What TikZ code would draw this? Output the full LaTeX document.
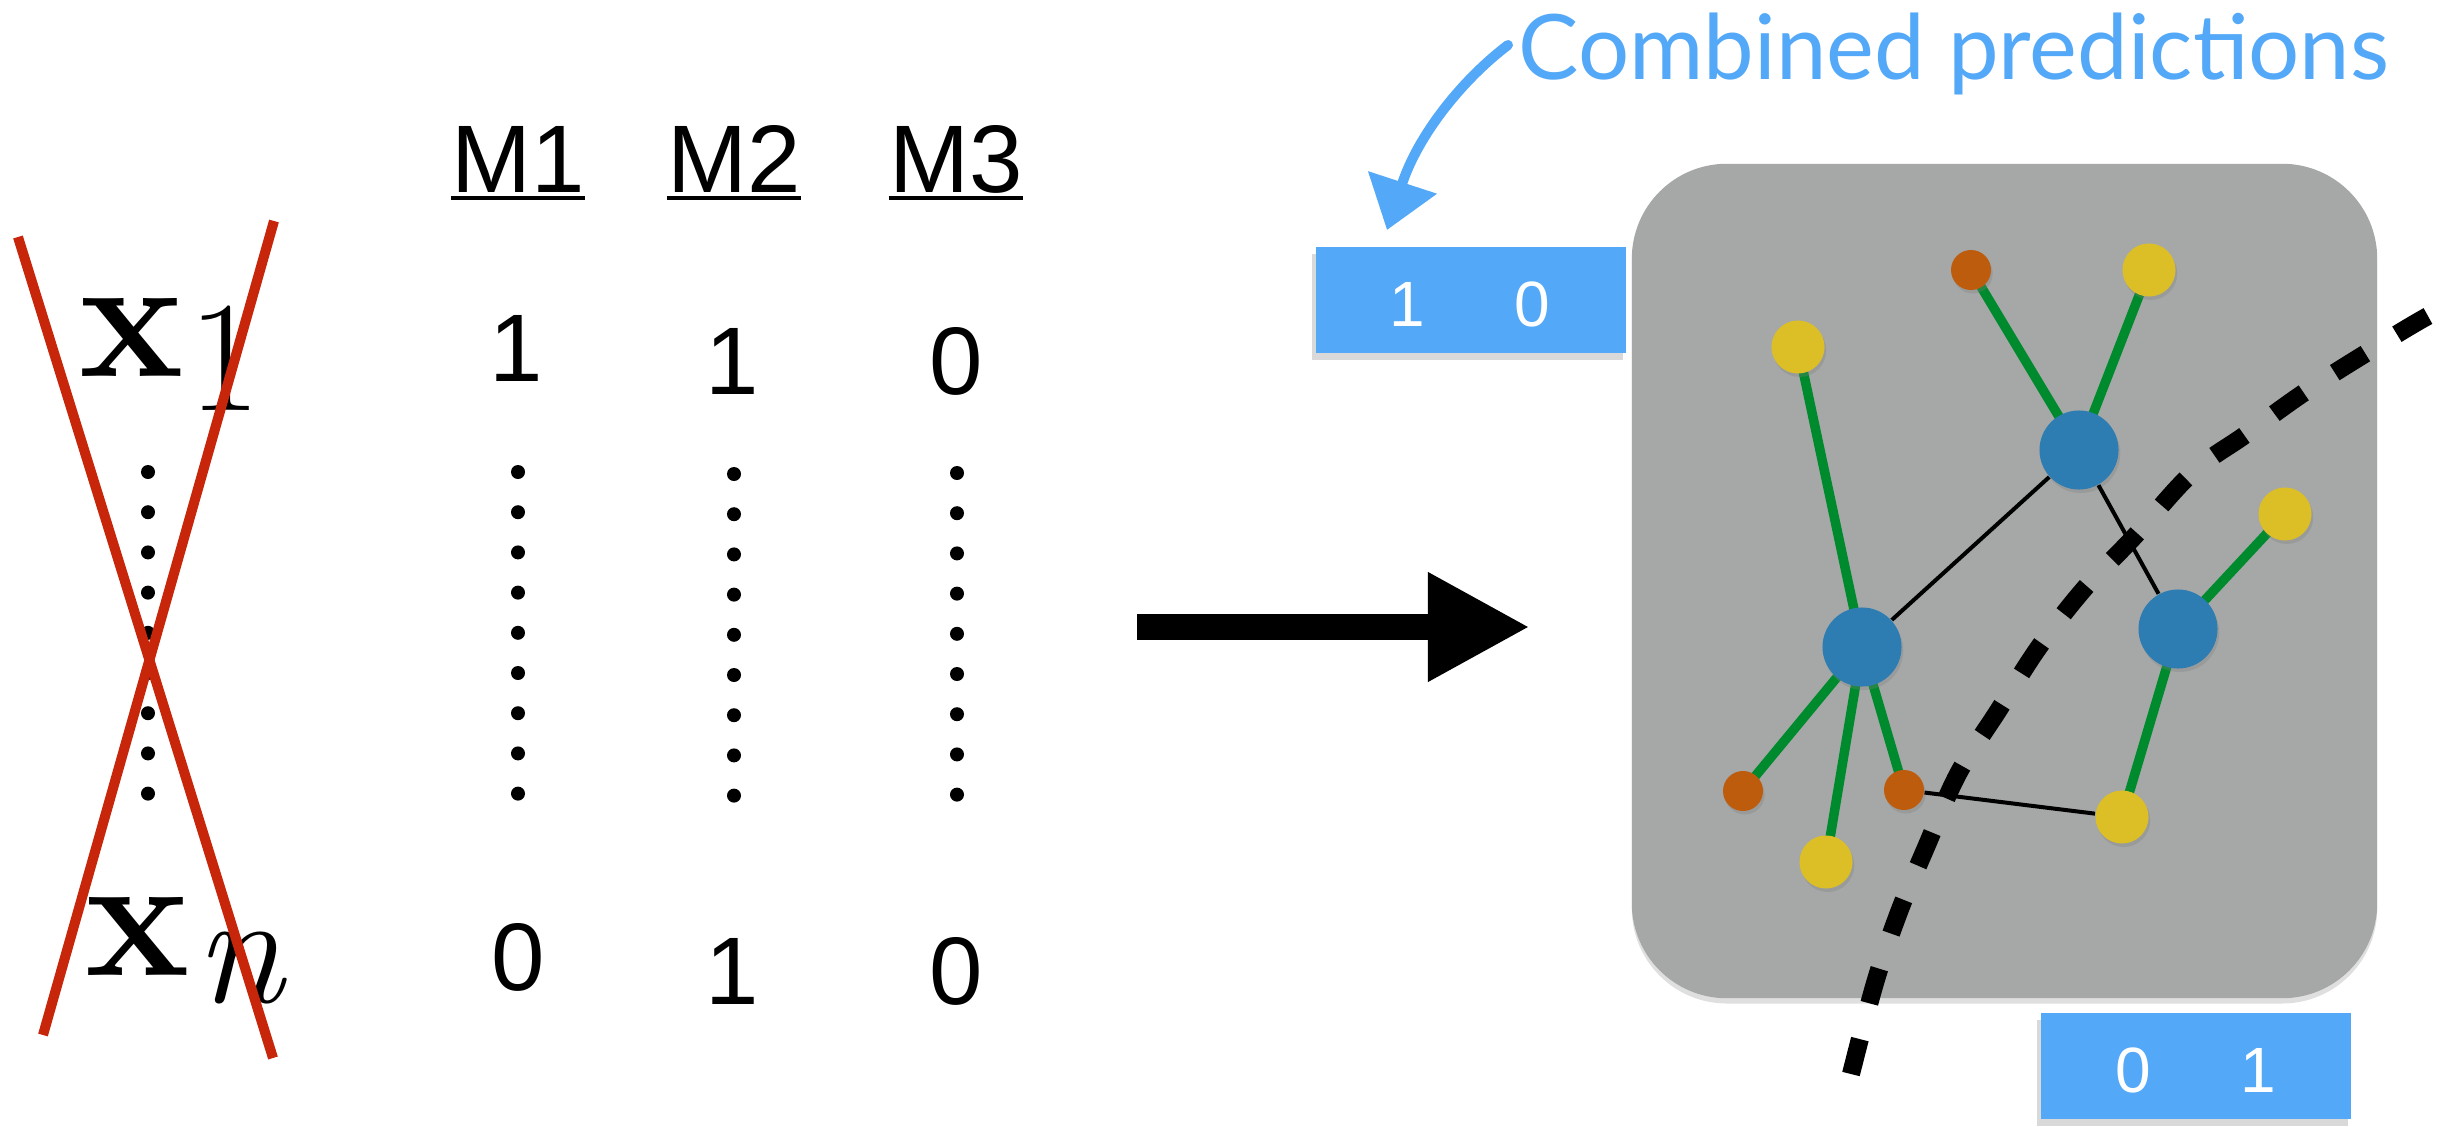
\documentclass[tikz,border=0pt]{standalone}
\usepackage{fontspec}
\newfontfamily\helv{Liberation Sans}
\newfontfamily\gillfont{Lato}
\usetikzlibrary{arrows.meta,shadows,calc}
\definecolor{predblue}{RGB}{84,168,248}
\definecolor{crossred}{RGB}{200,38,10}
\definecolor{boxgray}{RGB}{165,168,167}
\definecolor{edgegreen}{RGB}{0,138,46}
\definecolor{nodeblue}{RGB}{46,125,178}
\definecolor{nodeyellow}{RGB}{220,190,38}
\definecolor{nodeorange}{RGB}{190,92,14}
\begin{document}
\begin{tikzpicture}[x=0.01cm,y=-0.01cm,
  hdr/.style={font=\helv\fontsize{27.3}{30}\selectfont, inner sep=0pt, anchor=base},
  vdot/.style={circle, fill=black, inner sep=0pt, minimum size=0.14cm},
  ul/.style={line width=0.04cm},
  cross/.style={crossred, line width=0.10cm},
  bnode/.style={circle, fill=nodeblue, inner sep=0pt, minimum size=0.79cm, drop shadow={shadow xshift=0.5pt, shadow yshift=-1pt, opacity=0.3}},
  ynode/.style={circle, fill=nodeyellow, inner sep=0pt, minimum size=0.53cm, drop shadow={shadow xshift=0.5pt, shadow yshift=-1pt, opacity=0.3}},
  onode/.style={circle, fill=nodeorange, inner sep=0pt, minimum size=0.40cm, drop shadow={shadow xshift=0.5pt, shadow yshift=-1pt, opacity=0.3}},
  gedge/.style={edgegreen, line width=0.095cm},
  kedge/.style={black, line width=0.04cm},
  predbox/.style={fill=predblue, minimum width=3.1cm, minimum height=1.06cm, inner sep=0pt, drop shadow={shadow xshift=-1pt, shadow yshift=-2pt, opacity=0.3}},
  boxdigit/.style={white, font=\helv\fontsize{18.2}{20}\selectfont, inner sep=0pt, anchor=base},
  dashline/.style={black, line width=0.18cm, dash pattern=on 0.36cm off 0.37cm},
  bigarrow/.style={black, line width=0.26cm, -{Triangle[length=1.02cm, width=1.02cm]}},
  curlyarrow/.style={predblue, line width=0.10cm, line cap=round, -{Triangle[length=0.5cm, width=0.7cm]}}
]
\useasboundingbox (0,0) rectangle (2444,1127);

% ---------- left table ----------
\node[hdr] (m1) at (518,192) {M1};
\node[hdr] (m2) at (734,192) {M2};
\node[hdr] (m3) at (956,192) {M3};
\foreach \m in {m1,m2,m3}{
  \draw[ul] ($(\m.base west)+(0,6)$) -- ($(\m.base east)+(0,6)$);
}
\node[hdr] (v11) at (516,381) {1};
\node[hdr] (v12) at (732,394) {1};
\node[hdr] (v13) at (956,394) {0};
\node[hdr] (vn1) at (518,990) {0};
\node[hdr] (vn2) at (732,1004) {1};
\node[hdr] (vn3) at (956,1004) {0};

\foreach \i in {0,...,8}{
  \node[vdot] (dx\i) at (148,472+40.2*\i) {};
  \node[vdot] (da\i) at (518,472+40.2*\i) {};
  \node[vdot] (db\i) at (734,474+40.2*\i) {};
  \node[vdot] (dc\i) at (957,473+40.2*\i) {};
}

\node[inner sep=0pt, anchor=base west, font=\fontsize{50}{55}\selectfont\bfseries] (x1) at (79,376) {x};
\node[inner sep=0pt, anchor=base, font=\fontsize{45}{48}\selectfont] (s1) at (225,410) {1};
\node[inner sep=0pt, anchor=base west, font=\fontsize{50}{55}\selectfont\bfseries] (xn) at (85,975) {x};
\node[inner sep=0pt, anchor=base, font=\fontsize{45.5}{50}\selectfont\itshape] (sn) at (240,1002) {n};

\coordinate (r1a) at (18,237);
\coordinate (r1b) at (273,1058);
\coordinate (r2a) at (274,221);
\coordinate (r2b) at (43,1035);
\draw[cross] (r1a) -- (r1b);
\draw[cross] (r2a) -- (r2b);

% ---------- big arrow ----------
\coordinate (bigS) at (1137,627);
\coordinate (bigE) at (1530,627);
\draw[bigarrow] (bigS) -- (bigE);

% ---------- panel ----------
\node[fill=boxgray, rounded corners=0.95cm, minimum width=7.45cm, minimum height=8.34cm, inner sep=0pt,
      drop shadow={shadow xshift=0pt, shadow yshift=-1.5pt, opacity=0.25}] (panel) at (2004.5,581) {};

\coordinate (ot) at (1971,270);
\coordinate (ytr) at (2149,270);
\coordinate (yl) at (1798,347);
\coordinate (bt) at (2079,450);
\coordinate (yr) at (2285,514);
\coordinate (bl) at (1862,647);
\coordinate (br) at (2178,629);
\coordinate (olb) at (1743,791);
\coordinate (om) at (1904,790);
\coordinate (yb) at (1826,862);
\coordinate (yrb) at (2122,817);

\draw[gedge] (yl) -- (bl);
\draw[gedge] (ot) -- (bt);
\draw[gedge] (ytr) -- (bt);
\draw[gedge] (yr) -- (br);
\draw[gedge] (bl) -- (olb);
\draw[gedge] (bl) -- (yb);
\draw[gedge] (bl) -- (om);
\draw[gedge] (br) -- (yrb);

\node[onode] (Not) at (ot) {};
\node[ynode] (Nytr) at (ytr) {};
\node[ynode] (Nyl) at (yl) {};
\node[bnode] (Nbt) at (bt) {};
\node[ynode] (Nyr) at (yr) {};
\node[bnode] (Nbl) at (bl) {};
\node[bnode] (Nbr) at (br) {};
\node[onode] (Nolb) at (olb) {};
\node[onode] (Nom) at (om) {};
\node[ynode] (Nyb) at (yb) {};
\node[ynode] (Nyrb) at (yrb) {};

\draw[kedge] (Nbl) -- (Nbt);
\draw[kedge] (Nbt) -- (Nbr);
\draw[kedge] (Nom) -- (Nyrb);

% ---------- decision boundary ----------
\draw[dashline] plot[smooth, tension=0.6] coordinates {(1851,1074) (1875,983) (1899,912) (1927,845) (1958,774) (1998,711) (2039,647) (2084,589) (2133,538) (2192,473) (2245,435) (2305,392) (2368,352) (2428,316) (2470,296)};

% ---------- prediction boxes ----------
\node[predbox] (pb1) at (1471,300) {};
\node[boxdigit] (pb1a) at (1407,326) {1};
\node[boxdigit] (pb1b) at (1532,326) {0};
\node[predbox] (pb2) at (2196,1066) {};
\node[boxdigit] (pb2a) at (2133,1092) {0};
\node[boxdigit] (pb2b) at (2258,1092) {1};

% ---------- label ----------
\node[predblue, inner sep=0pt, anchor=base west, font=\gillfont\fontsize{25.7}{28}\selectfont] (cp) at (1518,79) {Combined predictions};
\coordinate (cpS) at (1508,45);
\coordinate (cpE) at (1387,230);
\draw[curlyarrow] (cpS) .. controls (1462,80) and (1418,135) .. (cpE);
\end{tikzpicture}
\end{document}
